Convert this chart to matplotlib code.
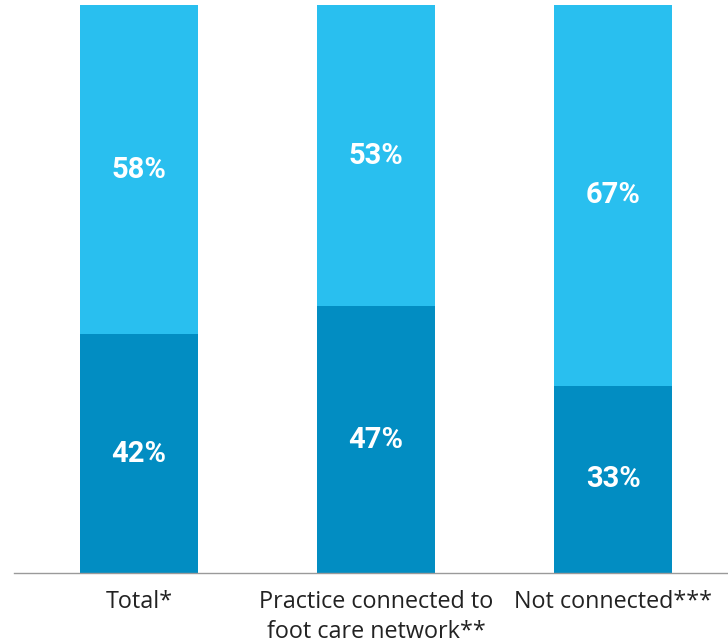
import matplotlib.pyplot as plt
import numpy as np

# share of practices, bottom (dark) and top (light) segments
categories = ["Total*", "Practice connected to\nfoot care network**", "Not connected***"]
bottom_vals = [42, 47, 33]
top_vals = [58, 53, 67]

dark = "#028DC2"
light = "#29BFEF"

plt.rcParams['font.family'] = ['Open Sans', 'DejaVu Sans']

fig = plt.figure(figsize=(7.28, 6.43), dpi=100)
ax = fig.add_axes([14 / 728, 70 / 643, 714 / 728, 568 / 643])

x = np.arange(len(categories))
w = 0.498
b1 = ax.bar(x, bottom_vals, width=w, color=dark)
b2 = ax.bar(x, top_vals, width=w, bottom=bottom_vals, color=light)

# white percent labels in the middle of each segment
lbl = dict(color="white", ha="center", va="center", fontsize=21,
           fontweight="bold", family=["Roboto", "DejaVu Sans"])
for i in range(len(categories)):
    ax.text(x[i], bottom_vals[i] / 2, f"{bottom_vals[i]}%", **lbl)
    ax.text(x[i], bottom_vals[i] + top_vals[i] / 2, f"{top_vals[i]}%", **lbl)

ax.set_xlim(-0.527, 2.485)
ax.set_ylim(0, 100)
ax.set_xticks(x)
ax.set_xticklabels(categories, fontsize=16.8, color="#222222", linespacing=1.35)
ax.tick_params(axis="x", length=0, pad=12)
ax.set_yticks([])
for s in ["top", "right", "left"]:
    ax.spines[s].set_visible(False)
ax.spines["bottom"].set_color("#9a9a9a")
ax.spines["bottom"].set_linewidth(1)

fig.savefig("out.png", dpi=100)
